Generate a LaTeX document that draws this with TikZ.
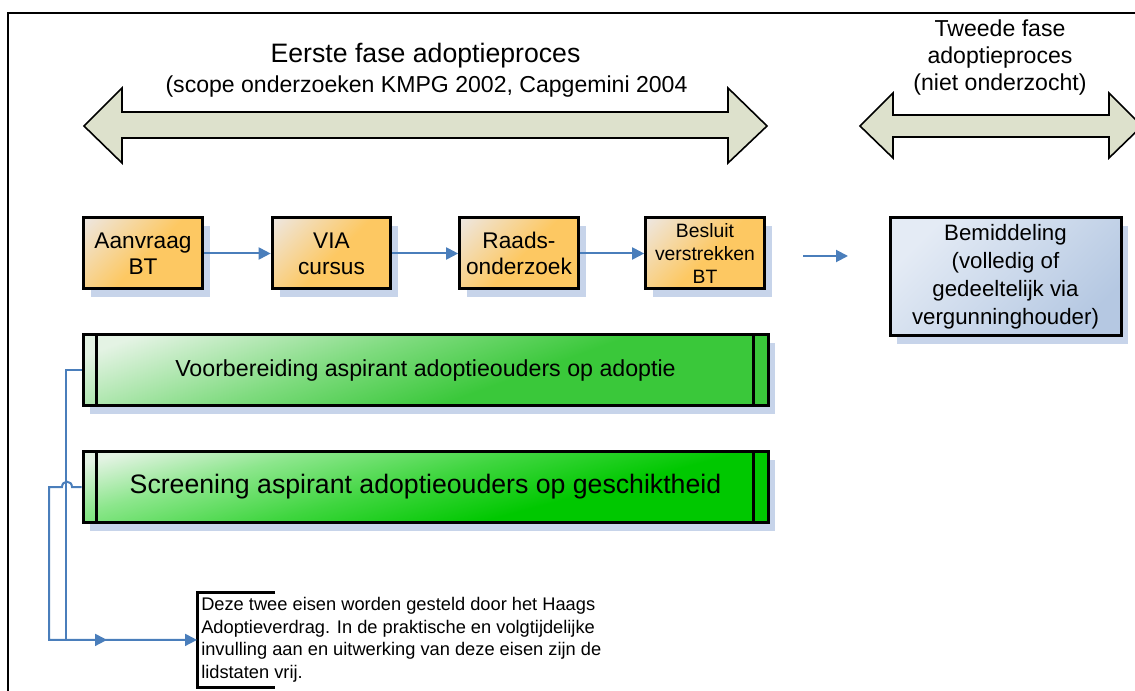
\documentclass[tikz,border=0pt]{standalone}
\usepackage{fontspec}
\setmainfont{Liberation Sans}
\usepackage{tikz}
\usetikzlibrary{arrows.meta}
\usetikzlibrary{shadows}

\definecolor{kaki}{HTML}{DDE1CC}
\definecolor{oranje}{HTML}{FDC862}
\definecolor{oranjelicht}{HTML}{EEE6DE}
\definecolor{blauwbox}{HTML}{B5C8E2}
\definecolor{blauwlicht}{HTML}{E4EBF5}
\definecolor{groen}{HTML}{3AC83A}
\definecolor{groenlicht}{HTML}{E4F3E4}
\definecolor{felgroen}{HTML}{00C800}
\definecolor{pijlblauw}{HTML}{4A7EBB}
\definecolor{schaduw}{HTML}{C7D4EA}

\pgfdeclareverticalshading{oranjeshade}{100bp}{color(0bp)=(oranje); color(48bp)=(oranje);
    color(84bp)=(oranjelicht); color(100bp)=(oranjelicht)}
\pgfdeclareverticalshading{groenshade}{100bp}{color(0bp)=(groen); color(42bp)=(groen);
    color(58bp)=(groen!65!white); color(78bp)=(groenlicht); color(100bp)=(groenlicht)}
\pgfdeclareverticalshading{felgroenshade}{100bp}{color(0bp)=(felgroen); color(38bp)=(felgroen);
    color(52bp)=(felgroen!75!white); color(66bp)=(felgroen!45!white); color(78bp)=(groenlicht); color(100bp)=(groenlicht)}

\begin{document}
\begin{tikzpicture}[x = .75pt, y = -.75pt,
    fase/.style = {draw, line width = 1.2pt, fill = kaki},
    stapbox/.style = {draw, line width = 2.25pt, inner sep = 0pt, align = center,
        drop shadow = {shadow xshift = 5.5pt, shadow yshift = -6pt, fill = schaduw, opacity = 1}},
    oranjebox/.style = {stapbox, shade, shading = oranjeshade, shading angle = 45,
        minimum width = 89pt, minimum height = 53.25pt, font = \fontsize{17}{19.5}\selectfont},
    groenbox/.style = {stapbox, shade, minimum width = 513.75pt, minimum height = 53.25pt},
    conn/.style = {pijlblauw, line width = 1.5pt, -{Triangle[length = 9pt, width = 9pt]}}
]
    %% rand
    \useasboundingbox (0, 0) rectangle (1135, 691);
    \clip (0, 0) rectangle (1135, 691);
    \draw[line width = 1.5pt] (8, 691) -- (8, 13) -- (1135, 13);

    %% fasen
    \draw[fase] (84, 126) -- (122, 88) -- (122, 112) -- (728, 112) -- (728, 88) -- (767, 126)
        -- (728, 163) -- (728, 138) -- (122, 138) -- (122, 163) -- cycle;
    \draw[fase] (860, 126) -- (893, 93) -- (893, 115) -- (1109, 115) -- (1109, 93) -- (1142, 126)
        -- (1109, 158) -- (1109, 137) -- (893, 137) -- (893, 158) -- cycle;

    \node[anchor = base, font = \fontsize{20}{24}\selectfont] (fase1) at (425.5, 63) {Eerste fase adoptieproces};
    \node[anchor = base, font = \fontsize{17.3}{20}\selectfont] (scope) at (426.5, 93) {(scope onderzoeken KMPG 2002, Capgemini 2004};
    \node[anchor = north, inner sep = 0pt, align = center, font = \fontsize{17.3}{20.25}\selectfont]
        (fase2) at (1000, 20) {Tweede fase\\adoptieproces\\(niet onderzocht)};

    %% stappen
    \node[oranjebox] (aanvraag) at (143, 253.5) {Aanvraag\\BT};
    \node[oranjebox] (via) at (331.5, 253.5) {VIA\\cursus};
    \node[oranjebox] (raads) at (519, 253.5) {Raads-\\onderzoek};
    \node[oranjebox, font = \fontsize{14.5}{17.25}\selectfont] (besluit) at (705, 253.5) {Besluit\\verstrekken\\BT};
    \node[stapbox, top color = blauwlicht, bottom color = blauwbox, shading angle = 45,
        minimum width = 173.25pt, minimum height = 88.5pt, font = \fontsize{16.7}{21}\selectfont]
        (bemiddeling) at (1005.5, 277) {Bemiddeling\\(volledig of\\gedeeltelijk via\\vergunninghouder)};

    \foreach \a/\b in {aanvraag/via, via/raads, raads/besluit}
        \draw[conn] (\a.east) -- (\b.west);
    \coordinate (los1) at (803, 256);
    \coordinate (los2) at (848, 256);
    \draw[conn] (los1) -- (los2);

    %% eisen
    \node[groenbox, shading = groenshade, shading angle = 20, font = \fontsize{17.4}{20}\selectfont]
        (vb) at (425.5, 370.5) {Voorbereiding aspirant adoptieouders op adoptie};
    \node[groenbox, shading = felgroenshade, shading angle = 15, font = \fontsize{20}{24}\selectfont]
        (scr) at (425.5, 487) {Screening aspirant adoptieouders op geschiktheid};
    \foreach \b in {vb, scr} {
        \draw[line width = 2.25pt] ([xshift = 11.25pt]\b.north west) -- ([xshift = 11.25pt]\b.south west);
        \draw[line width = 2.25pt] ([xshift = -12pt]\b.north east) -- ([xshift = -12pt]\b.south east);
    }

    %% toelichting
    \node[anchor = north west, inner xsep = 3pt, inner ysep = 4pt, align = left, font = \fontsize{13.7}{16.9}\selectfont]
        (tekst) at (197, 592) {Deze twee eisen worden gesteld door het Haags\\Adoptieverdrag. In de praktische en volgtijdelijke\\invulling aan en uitwerking van deze eisen zijn de\\lidstaten vrij.};
    \draw[line width = 2.25pt] (tekst.north west) ++(78, 0) -- (tekst.north west) -- (tekst.south west) -- ++(78, 0);

    \path (tekst.west) ++(-90, 0) coordinate (pijl1);
    \draw[conn] (vb.west) -- ++(-16, 0) |- (pijl1);
    \draw[conn] (scr.west) -- (72, 487) .. controls (72, 480) and (62, 480) .. (62, 487) -- (49, 487) |- (tekst.west);
\end{tikzpicture}
\end{document}
